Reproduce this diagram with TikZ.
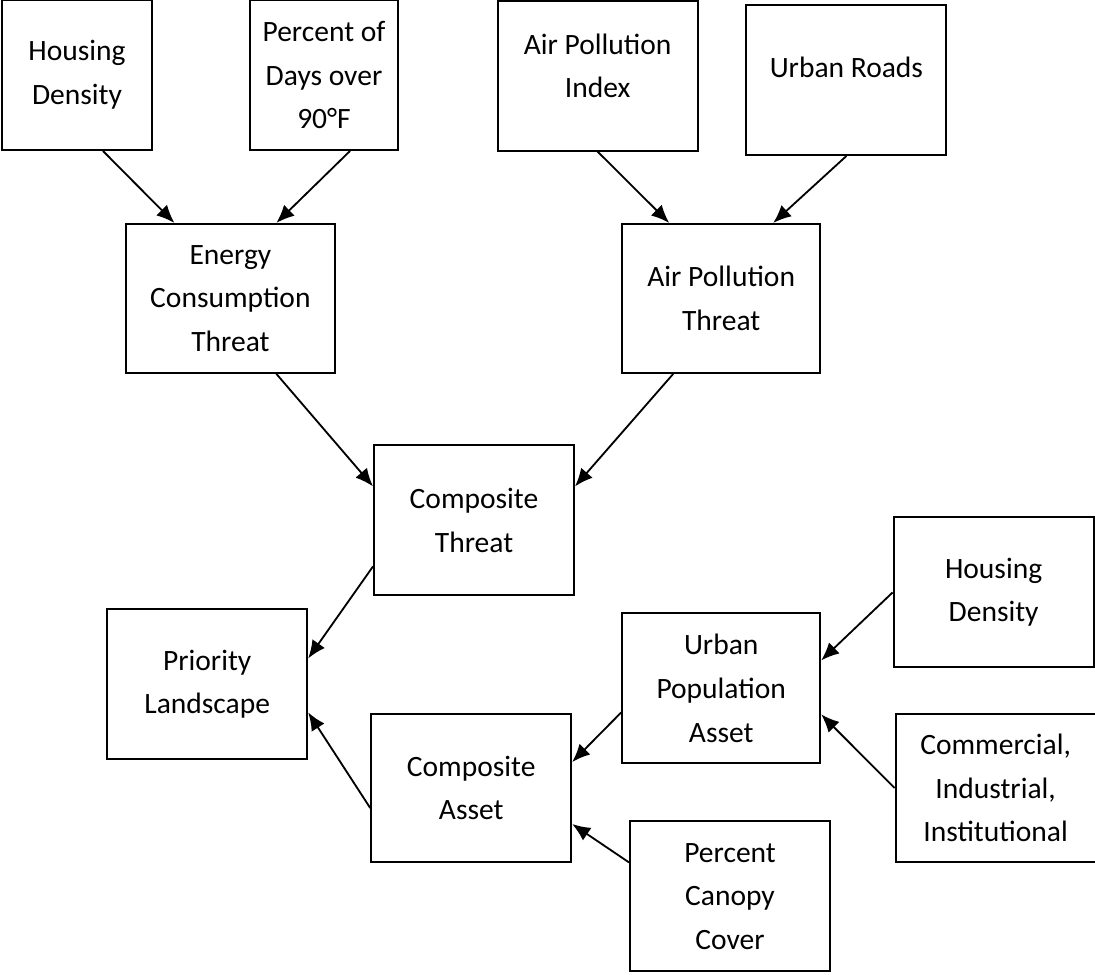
\documentclass[tikz,border=0pt]{standalone}
\usepackage{fontspec}
\setmainfont{Carlito}
\usetikzlibrary{arrows.meta}

\begin{document}
\begin{tikzpicture}[
    box/.style={rectangle, draw, line width=1.4pt, minimum width=5cm, minimum height=3.75cm, align=center, font=\fontsize{21}{31}\selectfont},
    link/.style={-{Latex[length=0.45cm,width=0.38cm]}, line width=1.3pt}
]
    \useasboundingbox (0,0) rectangle (27.375,-24.35);
    % Inputs for the threat side
    \node[box, minimum width=3.75cm] (hdtop) at (1.925,-1.875) {Housing\\Density};
    \node[box, minimum width=3.7cm] (hotdays) at (8.1,-1.875) {Percent of\\Days over\\90°F};
    \node[box, text depth=0.5cm] (api) at (14.94,-1.89) {Air Pollution\\Index};
    \node[box, text depth=0.65cm] (roads) at (21.16,-2.0) {Urban Roads};
    \node[box, minimum width=5.225cm, minimum height=3.725cm] (energy) at (5.76,-7.46) {Energy\\Consumption\\Threat};
    \node[box, minimum width=4.95cm, minimum height=3.725cm] (airthreat) at (18.03,-7.46) {Air Pollution\\Threat};
    \node[box] (cthreat) at (11.85,-13.01) {Composite\\Threat};
    \node[box] (priority) at (5.18,-17.11) {Priority\\Landscape};

    % Asset side
    \node[box] (hdright) at (24.84,-14.81) {Housing\\Density};
    \node[box, minimum width=4.95cm] (urbpop) at (18.03,-17.21) {Urban\\Population\\Asset};
    \node[box, minimum height=3.7cm] (casset) at (11.78,-19.7) {Composite\\Asset};
    \node[box, minimum height=3.7cm] (cii) at (24.89,-19.7) {Commercial,\\Industrial,\\Institutional};
    \node[box] (canopy) at (18.25,-22.41) {Percent\\Canopy\\Cover};

    \draw[link] ([xshift=0.65cm]hdtop.south) -- ([xshift=-1.4cm]energy.north);
    \draw[link] ([xshift=0.65cm]hotdays.south) -- ([xshift=1.15cm]energy.north);
    \draw[link] (api.south) -- ([xshift=-1.3cm]airthreat.north);
    \draw[link] (roads.south) -- ([xshift=1.3cm]airthreat.north);
    \draw[link] ([xshift=1.15cm]energy.south) -- ([yshift=0.85cm]cthreat.west);
    \draw[link] ([xshift=-1.2cm]airthreat.south) -- ([yshift=0.85cm]cthreat.east);
    \draw[link] ([yshift=-1.15cm]cthreat.west) -- ([yshift=0.65cm]priority.east);
    \draw[link] ([yshift=-0.5cm]casset.west) -- ([yshift=-0.7cm]priority.east);
    \draw[link] ([yshift=-0.6cm]urbpop.west) -- ([yshift=0.65cm]casset.east);
    \draw[link] (hdright.west) -- ([yshift=0.7cm]urbpop.east);
    \draw[link] (cii.west) -- ([yshift=-0.65cm]urbpop.east);
    \draw[link] ([yshift=0.85cm]canopy.west) -- ([yshift=-0.9cm]casset.east);
\end{tikzpicture}
\end{document}
